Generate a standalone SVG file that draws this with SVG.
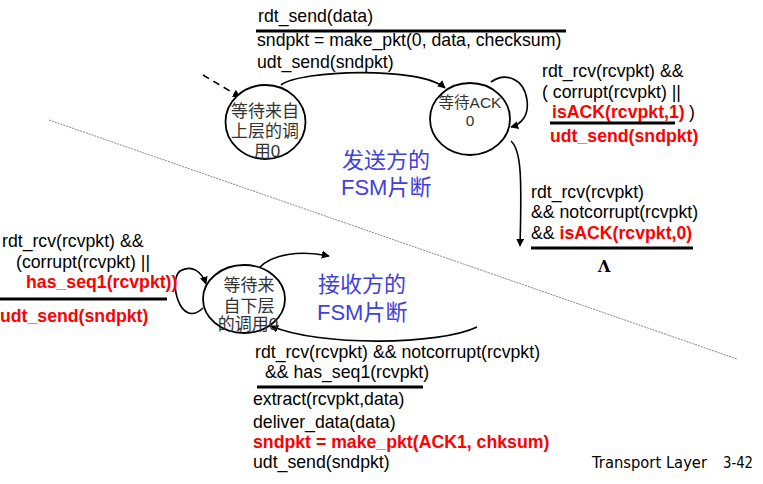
<svg xmlns="http://www.w3.org/2000/svg" width="763" height="484" viewBox="0 0 763 484">
<style>
.t{font-family:"Liberation Sans","Noto Sans CJK SC",sans-serif;font-size:17.7px;fill:#000}
.r{fill:#ff0000;font-weight:bold}
.n{font-family:"Liberation Sans","Noto Sans CJK SC",sans-serif;font-size:17px;fill:#333;text-anchor:middle}
.b{font-family:"Liberation Sans","Noto Sans CJK SC",sans-serif;font-size:22px;fill:#4040dd}
.st{fill:#fff;stroke:#000;stroke-width:1.8}
.c{fill:none;stroke:#000;stroke-width:1.6}
.u{stroke:#000;stroke-width:2.8}
.f{font-family:"DejaVu Sans","Liberation Sans",sans-serif;font-size:15px;fill:#000}
</style>
<defs>
<marker id="ah" viewBox="0 0 10 10" refX="9" refY="5" markerWidth="8" markerHeight="8" markerUnits="userSpaceOnUse" orient="auto">
<path d="M0,0 L10,5 L0,10 z" fill="#000"/>
</marker>
</defs>
<line x1="49" y1="120" x2="737" y2="359" stroke="#666" stroke-width="0.8" stroke-dasharray="2,1"/>
<g id="connectors">
<path class="c" d="M203,75 L240,97" stroke-dasharray="7,5" marker-end="url(#ah)"/>
<path class="c" d="M281,85 C300,70 420,66 445,88" marker-end="url(#ah)"/>
<path class="c" d="M491,82 C505,72 524,78 527,100 C529,115 522,124 511,127" marker-end="url(#ah)"/>
<path class="c" d="M511,141 C521,150 522,175 520,246" marker-end="url(#ah)"/>
<path class="c" d="M203,308 C180,330 168,280 180,271 C192,264 202,272 206,284" marker-end="url(#ah)"/>
<path class="c" d="M259,268 C272,254 300,250 329,256" marker-end="url(#ah)"/>
<path class="c" d="M477,327 C440,345 320,347 271,326" marker-end="url(#ah)"/>
</g>
<g id="s0">
<ellipse class="st" cx="265.5" cy="122" rx="40" ry="37"/>
<text class="n" x="265" y="117">等待来自</text>
<text class="n" x="265" y="137">上层的调</text>
<text class="n" x="267" y="157">用0</text>
</g>
<g id="s1">
<ellipse class="st" cx="470" cy="119" rx="40" ry="36"/>
<text class="n" x="470" y="108" style="font-size:15.5px">等待ACK</text>
<text class="n" x="470" y="126" style="font-size:15.5px">0</text>
</g>
<g id="r0">
<ellipse class="st" cx="244" cy="299" rx="41" ry="34"/>
<text class="n" x="249" y="291">等待来</text>
<text class="n" x="249" y="312">自下层</text>
<text class="n" x="248" y="330">的调用0</text>
</g>
<g id="labels">
<text class="t" x="258" y="22">rdt_send(data)</text>
<line class="u" x1="256" y1="31" x2="566" y2="31"/>
<text class="t" x="257" y="46">sndpkt = make_pkt(0, data, checksum)</text>
<text class="t" x="257" y="68">udt_send(sndpkt)</text>

<text class="t" x="542" y="77">rdt_rcv(rcvpkt) &amp;&amp;</text>
<text class="t" x="542" y="98">( corrupt(rcvpkt) ||</text>
<text class="t" x="552" y="118"><tspan class="r">isACK(rcvpkt,1)</tspan><tspan x="689">)</tspan></text>
<line class="u" x1="550" y1="123" x2="675" y2="123"/>
<text class="t r" x="550" y="142">udt_send(sndpkt)</text>

<text class="t" x="531" y="198">rdt_rcv(rcvpkt)</text>
<text class="t" x="531" y="218">&amp;&amp; notcorrupt(rcvpkt)</text>
<text class="t" x="531" y="239">&amp;&amp; <tspan class="r">isACK(rcvpkt,0)</tspan></text>
<line class="u" x1="531" y1="248" x2="693" y2="248"/>
<text x="598" y="272" style="font-family:'DejaVu Serif','Liberation Serif',serif;font-size:16px;font-weight:bold">Λ</text>

<text class="b" x="342" y="168">发送方的</text>
<text class="b" x="341" y="195">FSM片断</text>
<text class="b" x="318" y="292">接收方的</text>
<text class="b" x="317" y="320">FSM片断</text>

<text class="t" x="2" y="247">rdt_rcv(rcvpkt) &amp;&amp;</text>
<text class="t" x="16" y="268">(corrupt(rcvpkt) ||</text>
<text class="t r" x="26" y="288">has_seq1(rcvpkt))</text>
<line class="u" x1="0" y1="299" x2="167" y2="299"/>
<text class="t r" x="0" y="322">udt_send(sndpkt)</text>

<text class="t" x="255" y="358">rdt_rcv(rcvpkt) &amp;&amp; notcorrupt(rcvpkt)</text>
<text class="t" x="265" y="378">&amp;&amp; has_seq1(rcvpkt)</text>
<line class="u" x1="257" y1="387" x2="423" y2="387"/>
<text class="t" x="253" y="405">extract(rcvpkt,data)</text>
<text class="t" x="253" y="428">deliver_data(data)</text>
<text class="t r" x="253" y="448">sndpkt = make_pkt(ACK1, chksum)</text>
<text class="t" x="253" y="468">udt_send(sndpkt)</text>

<text class="f" x="592" y="468" textLength="115" lengthAdjust="spacingAndGlyphs">Transport Layer</text>
<text class="f" x="723" y="468" textLength="30" lengthAdjust="spacingAndGlyphs">3-42</text>
</g>
</svg>
